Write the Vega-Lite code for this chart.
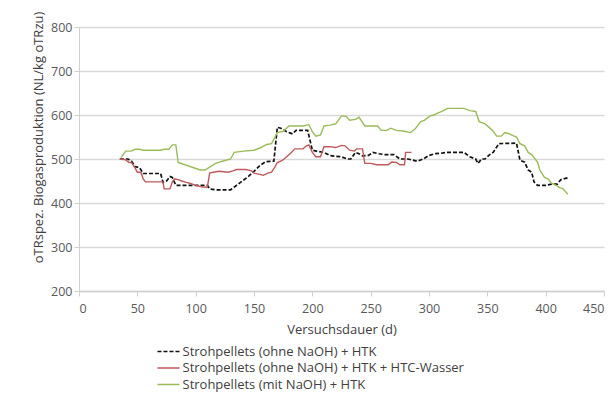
{
  "$schema": "https://vega.github.io/schema/vega-lite/v6.json",
  "width": 525,
  "height": 264,
  "autosize": {"type": "none"},
  "padding": {"left": 79, "top": 27, "right": 12, "bottom": 112},
  "background": "white",
  "config": {
    "font": "Open Sans",
    "view": {"stroke": null},
    "axis": {"labelFont": "Open Sans", "titleFont": "Open Sans"}
  },
  "datasets": {
    "black": [
      {"d":35,"v":500},{"d":42,"v":500},{"d":45,"v":495},{"d":48,"v":483},{"d":52,"v":480},{"d":55,"v":467},{"d":58,"v":467},{"d":70,"v":467},{"d":72,"v":447},{"d":75,"v":450},{"d":78,"v":460},{"d":80,"v":458},{"d":83,"v":440},{"d":88,"v":440},{"d":110,"v":440},{"d":112,"v":432},{"d":117,"v":430},{"d":130,"v":430},{"d":133,"v":436},{"d":140,"v":450},{"d":145,"v":460},{"d":150,"v":472},{"d":155,"v":485},{"d":160,"v":494},{"d":167,"v":495},{"d":170,"v":572},{"d":173,"v":570},{"d":178,"v":562},{"d":180,"v":560},{"d":183,"v":557},{"d":186,"v":565},{"d":196,"v":565},{"d":200,"v":520},{"d":205,"v":517},{"d":210,"v":515},{"d":215,"v":508},{"d":220,"v":506},{"d":225,"v":505},{"d":230,"v":500},{"d":233,"v":500},{"d":237,"v":515},{"d":240,"v":512},{"d":243,"v":507},{"d":248,"v":508},{"d":252,"v":515},{"d":257,"v":512},{"d":262,"v":510},{"d":270,"v":510},{"d":275,"v":500},{"d":282,"v":500},{"d":285,"v":498},{"d":290,"v":495},{"d":295,"v":500},{"d":300,"v":508},{"d":305,"v":512},{"d":310,"v":513},{"d":315,"v":515},{"d":330,"v":515},{"d":335,"v":505},{"d":340,"v":500},{"d":342,"v":490},{"d":345,"v":500},{"d":348,"v":500},{"d":352,"v":510},{"d":355,"v":515},{"d":360,"v":535},{"d":375,"v":536},{"d":378,"v":497},{"d":382,"v":493},{"d":385,"v":475},{"d":388,"v":470},{"d":390,"v":448},{"d":393,"v":440},{"d":400,"v":440},{"d":405,"v":443},{"d":410,"v":443},{"d":413,"v":453},{"d":417,"v":456},{"d":420,"v":458}
    ],
    "red": [
      {"d":35,"v":500},{"d":40,"v":498},{"d":43,"v":492},{"d":45,"v":492},{"d":48,"v":480},{"d":50,"v":470},{"d":53,"v":470},{"d":55,"v":455},{"d":57,"v":448},{"d":72,"v":448},{"d":73,"v":432},{"d":78,"v":432},{"d":80,"v":448},{"d":82,"v":455},{"d":85,"v":453},{"d":88,"v":450},{"d":92,"v":447},{"d":95,"v":445},{"d":100,"v":440},{"d":105,"v":437},{"d":110,"v":436},{"d":112,"v":468},{"d":115,"v":470},{"d":120,"v":472},{"d":128,"v":470},{"d":132,"v":473},{"d":135,"v":476},{"d":143,"v":476},{"d":148,"v":473},{"d":150,"v":468},{"d":155,"v":465},{"d":158,"v":463},{"d":162,"v":468},{"d":165,"v":470},{"d":168,"v":482},{"d":170,"v":492},{"d":174,"v":496},{"d":178,"v":505},{"d":182,"v":515},{"d":185,"v":523},{"d":192,"v":523},{"d":195,"v":530},{"d":197,"v":532},{"d":200,"v":515},{"d":203,"v":505},{"d":207,"v":505},{"d":210,"v":528},{"d":215,"v":528},{"d":220,"v":526},{"d":225,"v":531},{"d":228,"v":530},{"d":232,"v":520},{"d":236,"v":518},{"d":238,"v":523},{"d":243,"v":523},{"d":245,"v":490},{"d":250,"v":490},{"d":255,"v":487},{"d":265,"v":487},{"d":268,"v":493},{"d":272,"v":492},{"d":275,"v":487},{"d":279,"v":487},{"d":280,"v":515},{"d":285,"v":515}
    ],
    "green": [
      {"d":36,"v":503},{"d":40,"v":518},{"d":45,"v":518},{"d":48,"v":522},{"d":52,"v":522},{"d":55,"v":520},{"d":70,"v":520},{"d":73,"v":522},{"d":77,"v":522},{"d":80,"v":532},{"d":83,"v":532},{"d":85,"v":492},{"d":104,"v":475},{"d":108,"v":475},{"d":111,"v":480},{"d":117,"v":490},{"d":123,"v":495},{"d":130,"v":500},{"d":133,"v":515},{"d":141,"v":518},{"d":150,"v":520},{"d":155,"v":525},{"d":161,"v":533},{"d":165,"v":535},{"d":170,"v":560},{"d":175,"v":563},{"d":180,"v":575},{"d":192,"v":575},{"d":197,"v":578},{"d":200,"v":562},{"d":203,"v":552},{"d":207,"v":555},{"d":210,"v":575},{"d":215,"v":577},{"d":220,"v":580},{"d":225,"v":598},{"d":229,"v":597},{"d":232,"v":588},{"d":237,"v":590},{"d":240,"v":595},{"d":245,"v":575},{"d":256,"v":575},{"d":259,"v":565},{"d":264,"v":565},{"d":267,"v":570},{"d":272,"v":565},{"d":279,"v":563},{"d":284,"v":560},{"d":288,"v":568},{"d":293,"v":585},{"d":296,"v":588},{"d":301,"v":598},{"d":304,"v":600},{"d":308,"v":605},{"d":311,"v":608},{"d":316,"v":615},{"d":330,"v":615},{"d":335,"v":610},{"d":340,"v":608},{"d":343,"v":585},{"d":348,"v":580},{"d":351,"v":573},{"d":355,"v":563},{"d":358,"v":552},{"d":362,"v":552},{"d":365,"v":560},{"d":368,"v":558},{"d":372,"v":553},{"d":375,"v":550},{"d":378,"v":535},{"d":382,"v":530},{"d":385,"v":515},{"d":388,"v":510},{"d":393,"v":493},{"d":395,"v":475},{"d":399,"v":458},{"d":402,"v":455},{"d":405,"v":445},{"d":409,"v":440},{"d":412,"v":435},{"d":415,"v":432},{"d":419,"v":420}
    ]
  },
  "layer": [
    {
      "data": {"name": "black"},
      "transform": [{"calculate": "'Strohpellets (ohne NaOH) + HTK'", "as": "s"}],
      "mark": {"type": "line", "strokeWidth": 1.7, "strokeDash": [4, 2.5]},
      "encoding": {
        "x": {"field": "d", "type": "quantitative", "scale": {"domain": [0, 450], "nice": false},
          "axis": {"values": [0,50,100,150,200,250,300,350,400,450], "title": "Versuchsdauer (d)", "grid": false,
            "domainColor": "#d0d0d0", "domainWidth": 1.5, "tickColor": "#d0d0d0", "tickSize": 5, "labelPadding": 6,
            "labelFontSize": 12.5, "labelColor": "#595959", "titleFontSize": 13, "titleFontWeight": "normal", "titleColor": "#404040", "titlePadding": 9}},
        "y": {"field": "v", "type": "quantitative", "scale": {"domain": [200, 800], "nice": false, "zero": false},
          "axis": {"values": [200,300,400,500,600,700,800], "title": "oTRspez. Biogasproduktion (NL/kg oTRzu)",
            "gridColor": "#d9d9d9", "gridWidth": 1.5, "domainColor": "#d0d0d0", "domainWidth": 1, "tickColor": "#d0d0d0", "tickSize": 5,
            "labelPadding": 2, "labelFontSize": 12.5, "labelColor": "#595959", "titleFontSize": 13, "titleFontWeight": "normal", "titleColor": "#404040",
            "titleAnchor": "middle", "titleX": -41, "titleY": 110, "titleBaseline": "middle", "titleAngle": -90}},
        "color": {"field": "s", "type": "nominal",
          "scale": {"domain": ["Strohpellets (ohne NaOH) + HTK", "Strohpellets (ohne NaOH) + HTK + HTC-Wasser", "Strohpellets (mit NaOH) + HTK"], "range": ["#111111", "#c0595b", "#9bbb59"]},
          "legend": {"orient": "none", "legendX": 83, "legendY": 318, "title": null, "symbolType": "M-3,0H3", "symbolSize": 54, "symbolStrokeWidth": 1.5,
            "labelFontSize": 13, "labelColor": "#404040", "rowPadding": 2.5, "labelOffset": 7.5, "labelLimit": 400}},
        "strokeDash": {"field": "s", "type": "nominal",
          "scale": {"domain": ["Strohpellets (ohne NaOH) + HTK", "Strohpellets (ohne NaOH) + HTK + HTC-Wasser", "Strohpellets (mit NaOH) + HTK"], "range": [[4, 2], [1, 0], [1, 0]]},
          "legend": null}
      }
    },
    {
      "data": {"name": "red"},
      "transform": [{"calculate": "'Strohpellets (ohne NaOH) + HTK + HTC-Wasser'", "as": "s"}],
      "mark": {"type": "line", "strokeWidth": 1.4},
      "encoding": {
        "x": {"field": "d", "type": "quantitative"},
        "y": {"field": "v", "type": "quantitative"},
        "color": {"field": "s", "type": "nominal"}
      }
    },
    {
      "data": {"name": "green"},
      "transform": [{"calculate": "'Strohpellets (mit NaOH) + HTK'", "as": "s"}],
      "mark": {"type": "line", "strokeWidth": 1.4},
      "encoding": {
        "x": {"field": "d", "type": "quantitative"},
        "y": {"field": "v", "type": "quantitative"},
        "color": {"field": "s", "type": "nominal"}
      }
    }
  ]
}
